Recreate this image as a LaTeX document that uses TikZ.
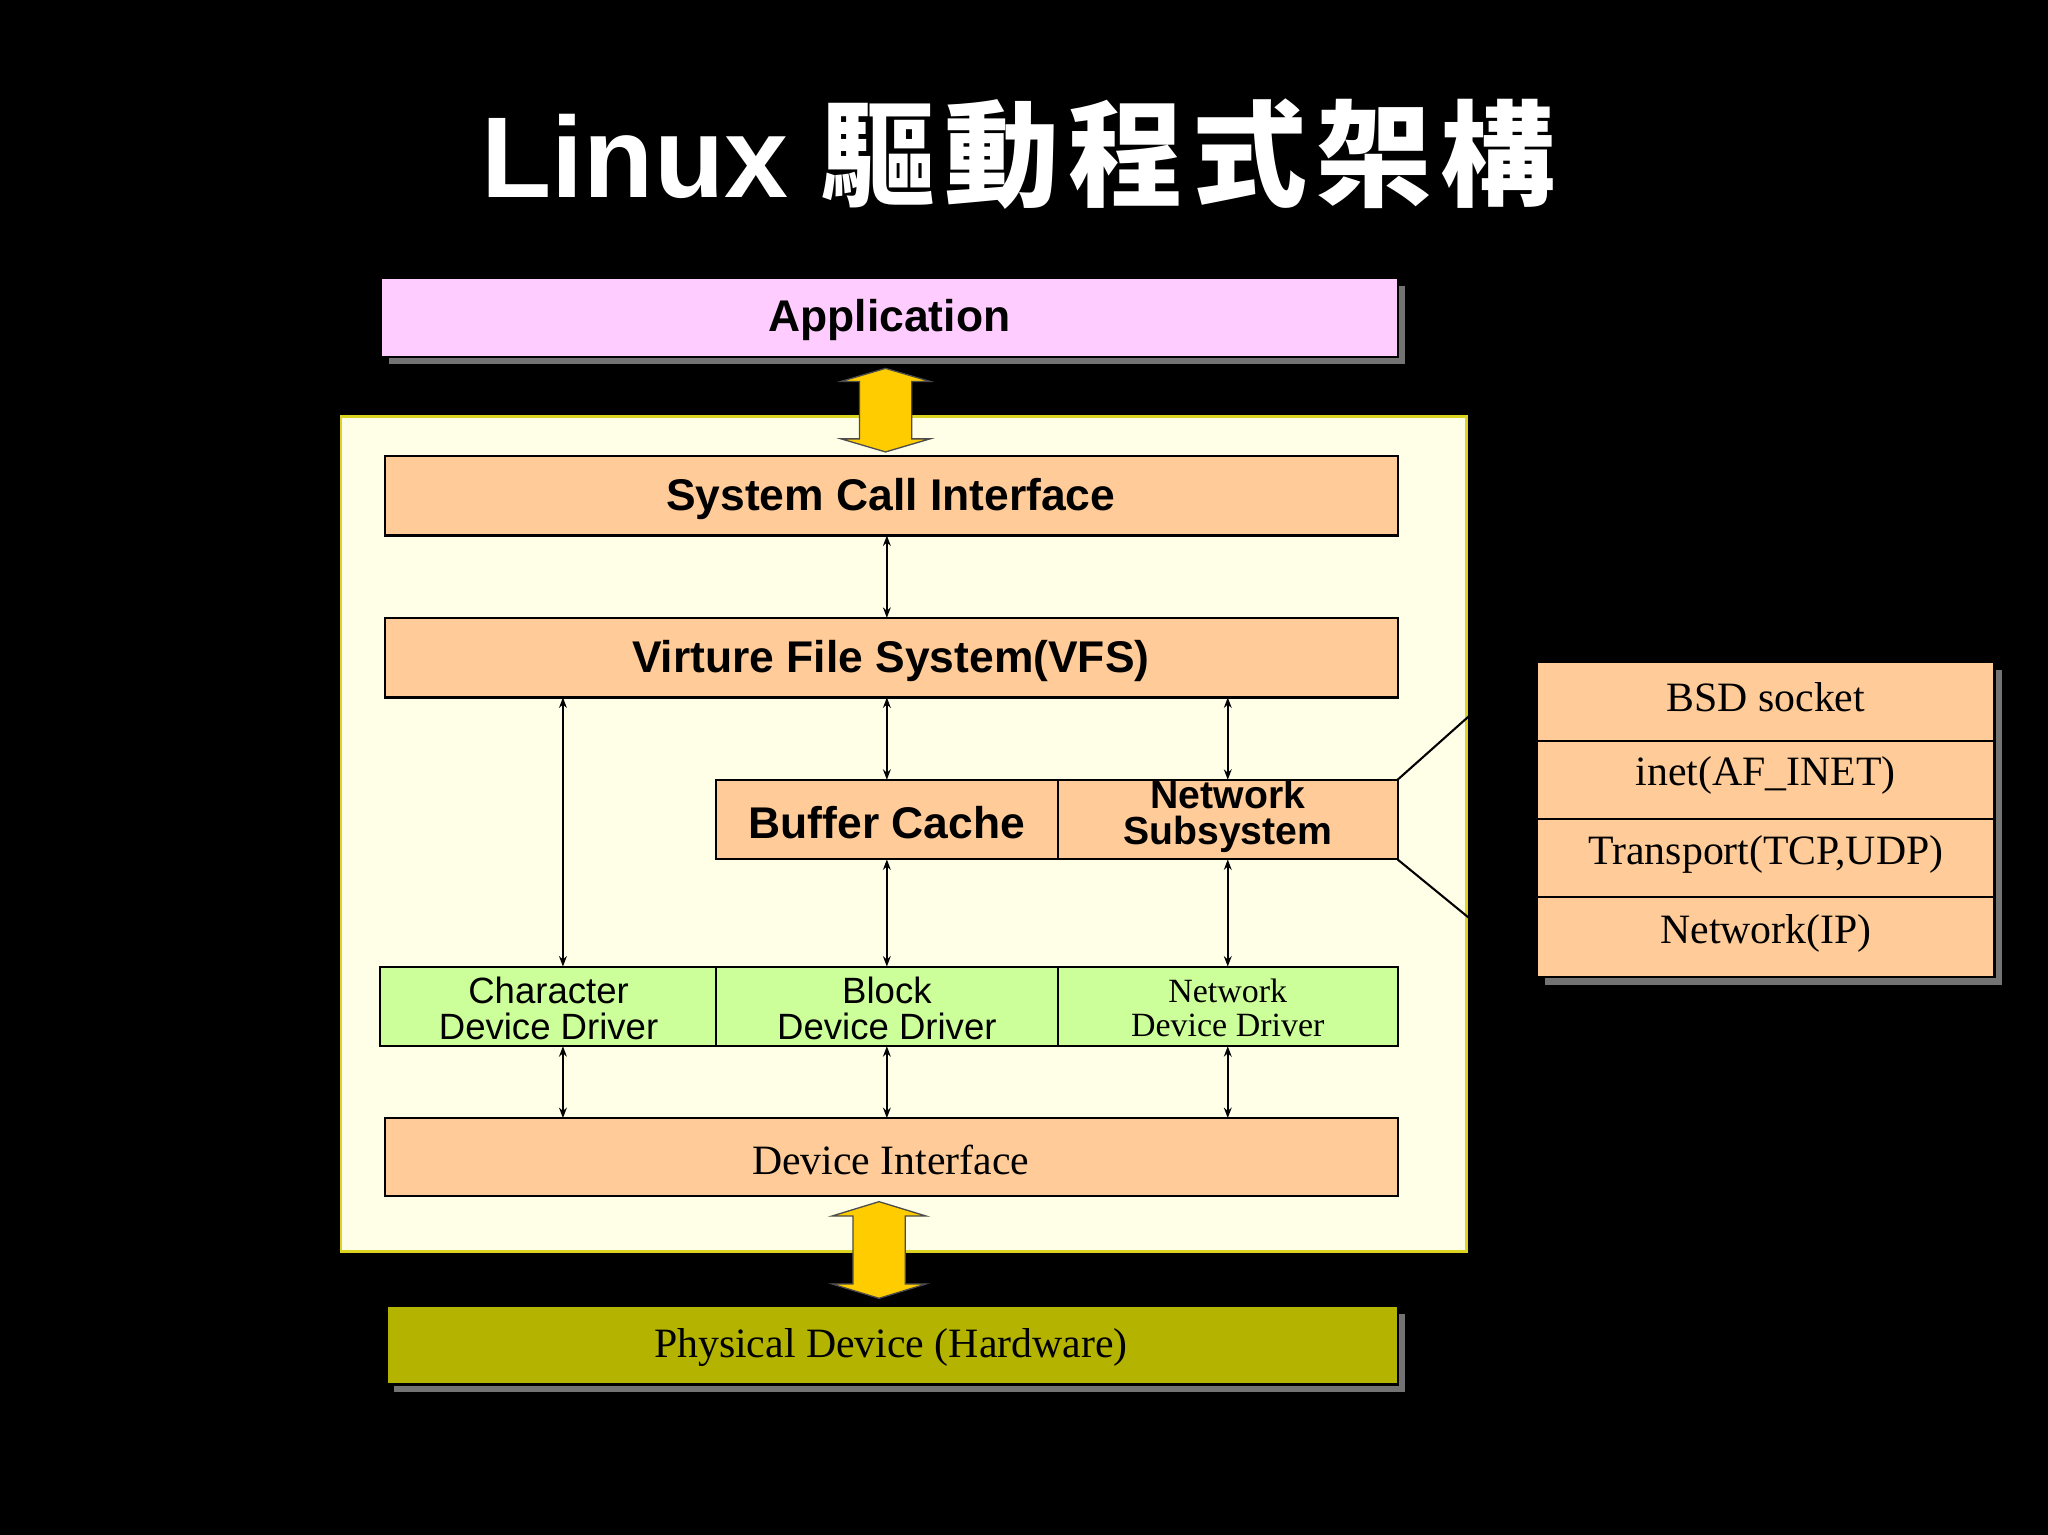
\documentclass[tikz,border=0pt]{standalone}
\usetikzlibrary{arrows.meta}
\usepackage{fontspec}
\setmainfont{Liberation Serif}
\newfontfamily\sans{Liberation Sans}
\newfontfamily\cjk{Noto Sans CJK TC}
\definecolor{peach}{HTML}{FFCC99}
\definecolor{pinkb}{HTML}{FFCCFF}
\definecolor{greenb}{HTML}{CCFF99}
\definecolor{olive}{HTML}{B3B300}
\definecolor{cream}{HTML}{FFFFE8}
\definecolor{gold}{HTML}{FFCC00}
\begin{document}
\begin{tikzpicture}[x=0.5pt,y=-0.5pt,
 box/.style={draw=black,line width=0.8pt,inner sep=0pt},
 shadow/.style={fill=black!55},
 bi/.style={<->,>={Stealth[length=4pt,width=3pt]},line width=0.6pt},
 big/.style={font=\sans\bfseries\fontsize{17}{18}\selectfont},
 ser/.style={font=\fontsize{16}{17}\selectfont},
 san/.style={font=\sans\fontsize{14}{14}\selectfont,align=center},
 sers/.style={font=\fontsize{13}{13}\selectfont,align=center},
 yarrow/.style={fill=gold,draw=black!70,line width=0.5pt}]
\fill[black] (0,0) rectangle (1568,1175);
\useasboundingbox (0,0) rectangle (1568,1175);
\node[text=white,font=\sans\bfseries\fontsize{44}{46}\selectfont] (title) at (780,118) {Linux {\cjk\bfseries\addfontfeature{LetterSpace=8} 驅動程式架構}};
% shadows
\foreach \a/\b/\c/\d in {292/213/1070/273, 295/349/1070/410, 295/473/1070/534, 548/597/1070/658, 291/740/1070/801, 295/856/1070/916, 296/1000/1070/1060, 1177/507/1527/748}
  \fill[shadow] (\a+6,\b+6) rectangle (\c+6,\d+6);
\draw[box,fill=pinkb] (292,213) rectangle (1070,273);
\node[big] (app) at (681,245) {Application};
\fill[cream,draw=yellow!85!black,line width=1pt] (261,319) rectangle (1123,958);
\coordinate (kern) at (261,319);
% yellow arrows
\draw[yarrow] (678,282) -- (712,292) -- (698,292) -- (698,336) -- (712,336) -- (678,346) -- (644,336) -- (658,336) -- (658,292) -- (644,292) -- cycle;
\draw[yarrow] (673,920) -- (709,931) -- (693,931) -- (693,983) -- (709,983) -- (673,994) -- (637,983) -- (653,983) -- (653,931) -- (637,931) -- cycle;
\draw[box,fill=peach] (295,349) rectangle (1070,410);
\node[big] (sci) at (682,382) {System Call Interface};
\draw[box,fill=peach] (295,473) rectangle (1070,534);
\node[big] (vfs) at (682,506) {Virture File System(VFS)};
\draw[box,fill=peach] (548,597) rectangle (810,658);
\node[big] (bc) at (679,630) {Buffer Cache};
\draw[box,fill=peach] (810,597) rectangle (1070,658);
\node[align=center,font=\sans\bfseries\fontsize{15}{13.5}\selectfont] (ns) at (940,625) {Network\\Subsystem};
\draw[box,fill=greenb] (291,740) rectangle (548,801);
\node[san] (cdd) at (420,772) {Character\\Device Driver};
\draw[box,fill=greenb] (548,740) rectangle (810,801);
\node[san] (bdd) at (679,772) {Block\\Device Driver};
\draw[box,fill=greenb] (810,740) rectangle (1070,801);
\node[sers] (ndd) at (940,772) {Network\\Device Driver};
\draw[box,fill=peach] (295,856) rectangle (1070,916);
\node[ser] (di) at (682,888) {Device Interface};
\draw[box,fill=olive] (296,1000) rectangle (1070,1060);
\node[ser] (pd) at (682,1032) {Physical Device (Hardware)};
% right stack
\foreach \t/\b/\lab/\n in {507/567/BSD socket/bsd, 567/627/inet(AF\_INET)/inet, 627/687/{Transport(TCP,UDP)}/tr, 687/748/Network(IP)/ip}{
  \draw[box,fill=peach] (1177,\t) rectangle (1527,\b);
  \node[ser] (\n) at (1352,{(\t+\b)/2-3}) {\lab};
}
\draw[line width=0.8pt] (1070,597) -- (1125,548);
\draw[line width=0.8pt] (1070,658) -- (1125,703);
% connectors
\draw[bi] (679,410) -- (679,473);
\draw[bi] (431,534) -- (431,740);
\draw[bi] (679,534) -- (679,597);
\draw[bi] (940,534) -- (940,597);
\draw[bi] (679,658) -- (679,740);
\draw[bi] (940,658) -- (940,740);
\draw[bi] (431,801) -- (431,856);
\draw[bi] (679,801) -- (679,856);
\draw[bi] (940,801) -- (940,856);
\end{tikzpicture}
\end{document}
